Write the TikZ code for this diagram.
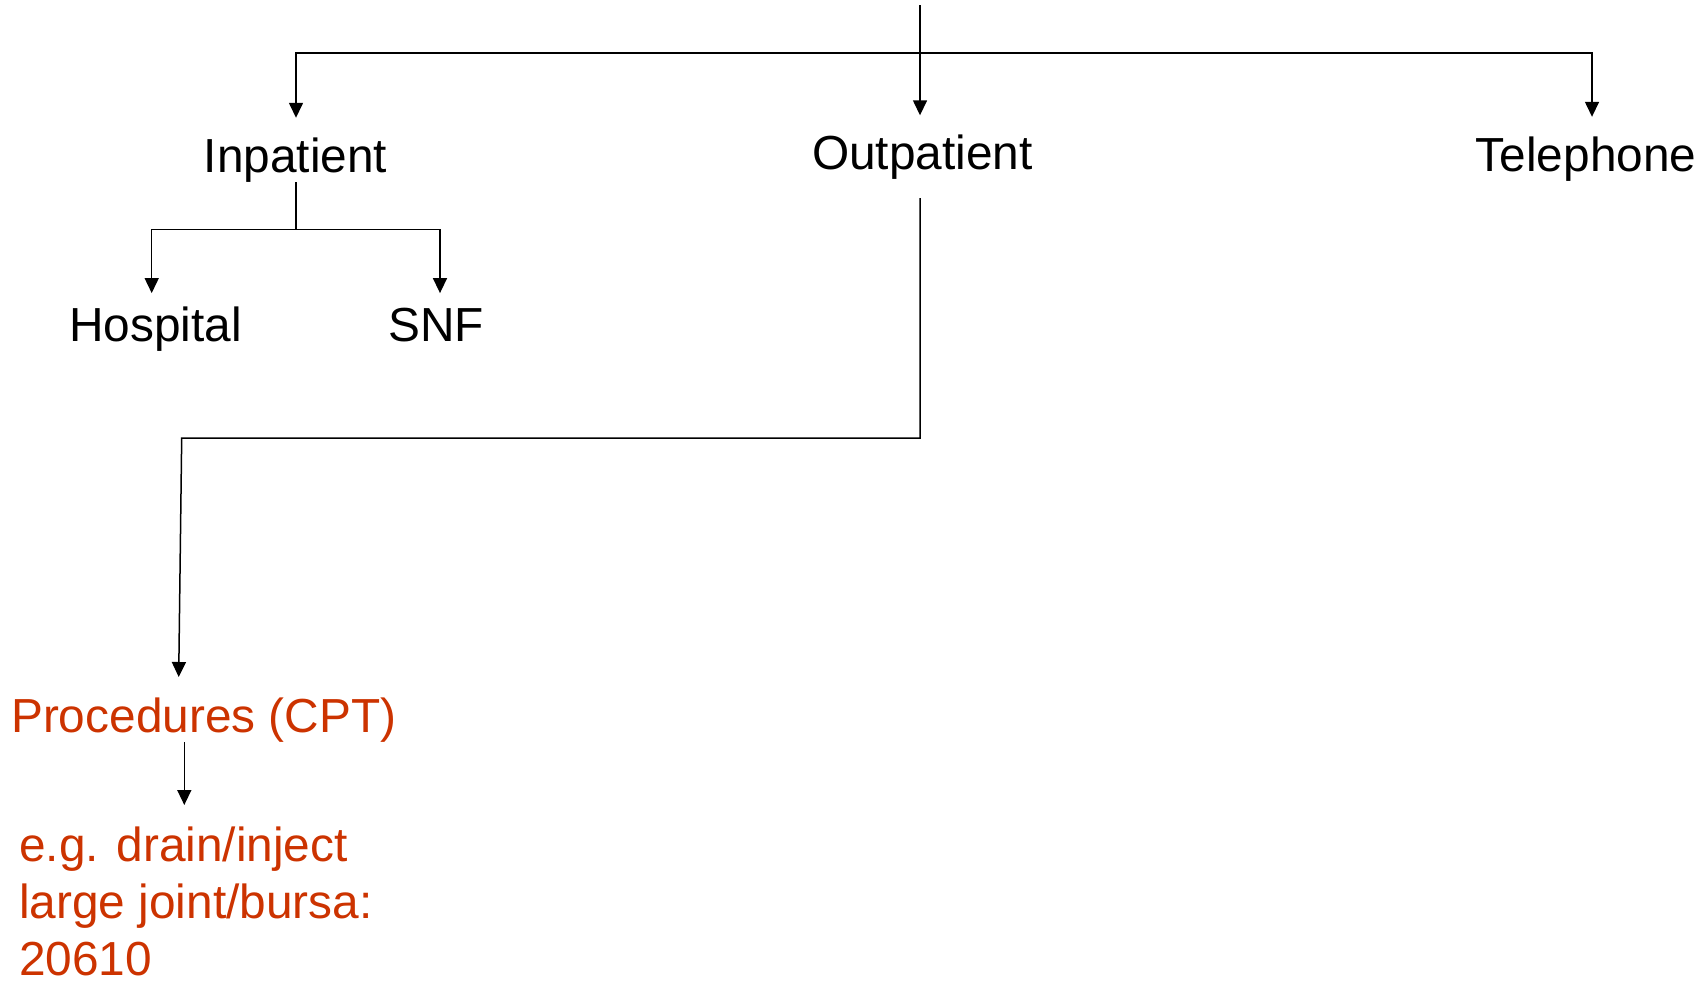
\documentclass[tikz,border=0pt]{standalone}
\usepackage{fontspec}
\setmainfont{Liberation Sans}
\usetikzlibrary{arrows.meta}
\definecolor{cptred}{RGB}{204,51,0}
\tikzset{
    >={Triangle[width=14pt,length=15pt]},
    branch/.style={line width=1.5pt,draw=black},
    arr/.style={branch,->},
    term/.style={inner sep=0pt,anchor=base,text height=34pt,text depth=10pt,font=\fontsize{47.8}{57.5}\selectfont},
    cpt/.style={term,text=cptred},
    note/.style={inner sep=0pt,align=left,text=cptred,font=\fontsize{47.8}{57}\selectfont},
}

\begin{document}
\begin{tikzpicture}[x=1pt,y=-1pt]
    \useasboundingbox (0,0) rectangle (1699,980);

    % settings
    \node[term] (inpat)  at (295.5,172)  {Inpatient};
    \node[term] (outpat) at (922.5,169.5) {Outpatient};
    \node[term] (tel)    at (1586,171)   {Telephone};

    \node[term] (hosp) at (155.5,341.7) {Hospital};
    \node[term] (snf)  at (436,341.7)   {SNF};

    \node[cpt,anchor=base west] (proc) at (11,732) {Procedures (CPT)};
    % base anchor sits on the last line
    \node[note,anchor=base west] (eg) at (19,975) {e.g. drain/inject\\large joint/bursa:\\20610};

    \coordinate (root)    at (920,5);
    \coordinate (bus)     at (920,53);
    \coordinate (inbus)   at (296,229.5);
    \coordinate (outknee) at (920,438);
    \coordinate (prknee)  at (181.7,438);
    \coordinate (proctip) at (178.7,677);
    \coordinate (egtip)   at (184.3,805);

    \draw[arr,shorten >=20pt] (root) -- ([xshift=-2.5pt]outpat.north);
    \draw[arr,shorten >=20pt] (bus) -| ([xshift=0.5pt]inpat.north);
    \draw[arr,shorten >=20pt] (bus) -| ([xshift=6pt]tel.north);

    \draw[branch] ([xshift=0.5pt]inpat.south) -- (inbus);
    \draw[arr,shorten >=14.4pt] (inbus) -| ([xshift=-3.8pt]hosp.north);
    \draw[arr,shorten >=14.4pt] (inbus) -| ([xshift=4pt]snf.north);

    \draw[arr,shorten <=18.5pt] ([xshift=-2.5pt]outpat.south) -- (outknee) -- (prknee) -- (proctip);
    \draw[arr] (proc.south -| egtip) -- (egtip);

\end{tikzpicture}
\end{document}
